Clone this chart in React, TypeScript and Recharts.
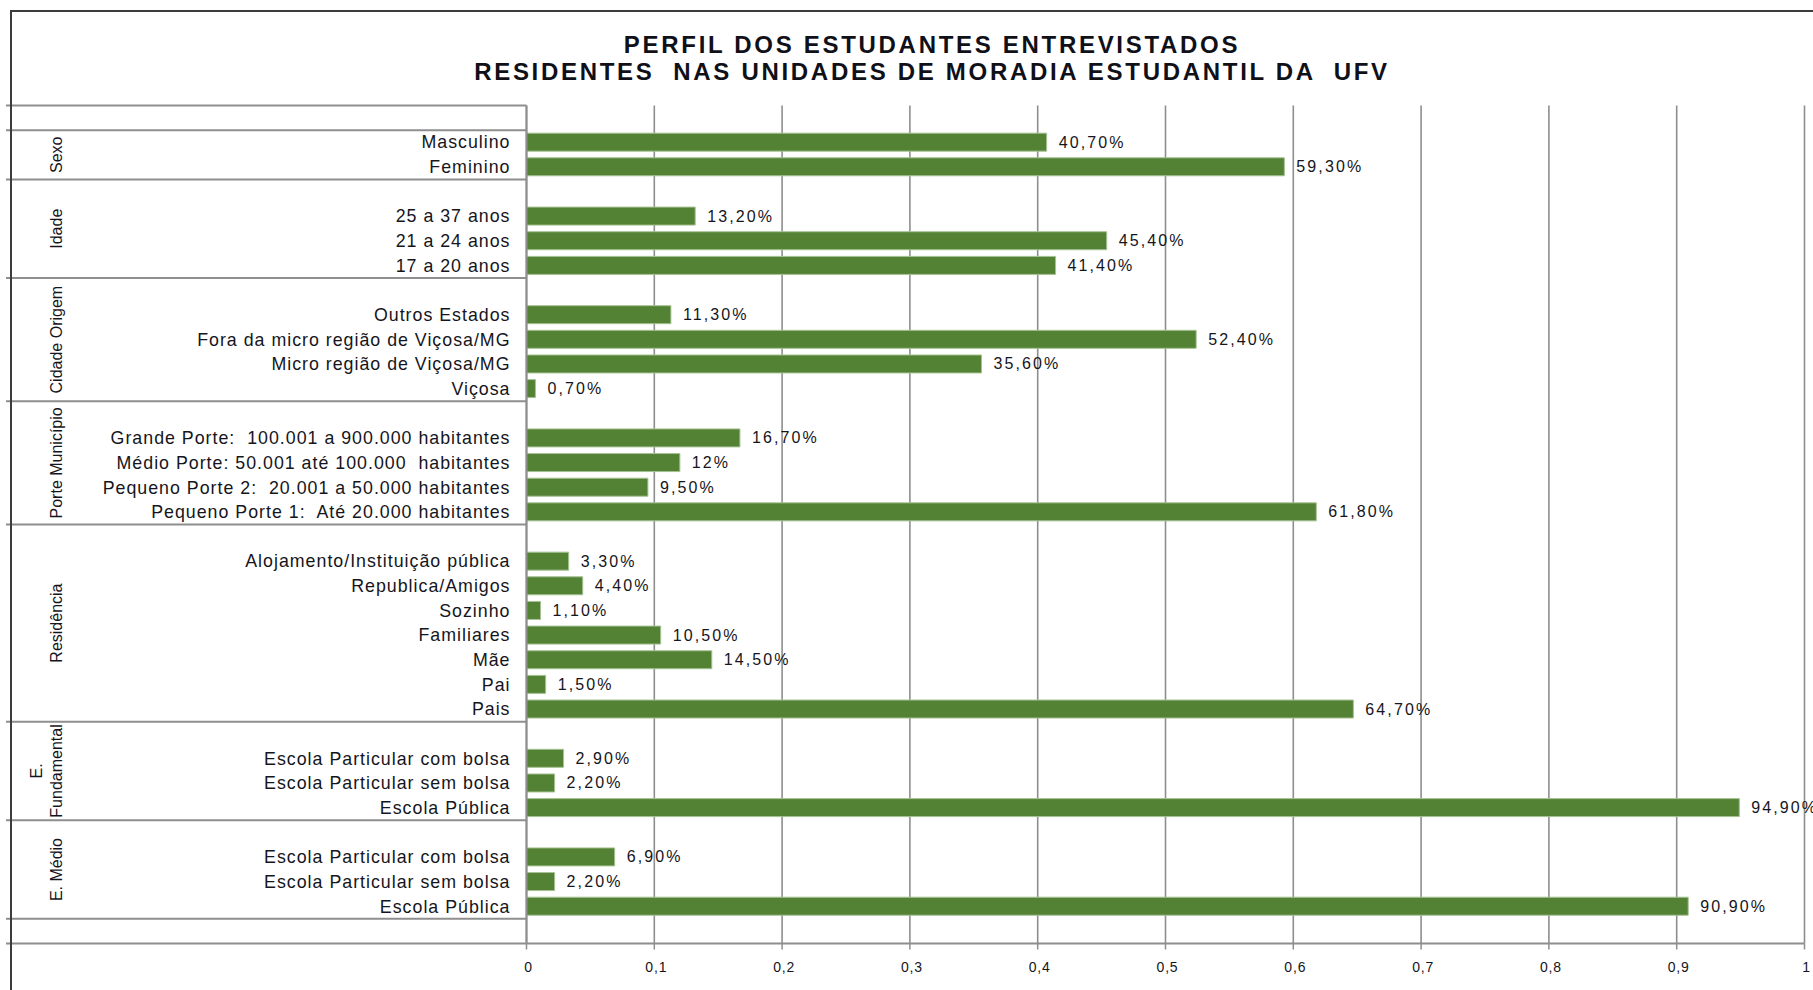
import React from 'react';
import { BarChart, Bar, XAxis, YAxis, CartesianGrid, LabelList } from 'recharts';

const titleLines = [
  'PERFIL DOS ESTUDANTES ENTREVISTADOS',
  'RESIDENTES  NAS UNIDADES DE MORADIA ESTUDANTIL DA  UFV',
];

const categories = [
  '',
  'Masculino', 'Feminino',
  '',
  '25 a 37 anos', '21 a 24 anos', '17 a 20 anos',
  '',
  'Outros Estados', 'Fora da micro região de Viçosa/MG', 'Micro região de Viçosa/MG', 'Viçosa',
  '',
  'Grande Porte:  100.001 a 900.000 habitantes', 'Médio Porte: 50.001 até 100.000  habitantes',
  'Pequeno Porte 2:  20.001 a 50.000 habitantes', 'Pequeno Porte 1:  Até 20.000 habitantes',
  '',
  'Alojamento/Instituição pública', 'Republica/Amigos', 'Sozinho', 'Familiares', 'Mãe', 'Pai', 'Pais',
  '',
  'Escola Particular com bolsa', 'Escola Particular sem bolsa', 'Escola Pública',
  '',
  'Escola Particular com bolsa', 'Escola Particular sem bolsa', 'Escola Pública',
  '',
];

const values: (number | null)[] = [
  null,
  0.407, 0.593,
  null,
  0.132, 0.454, 0.414,
  null,
  0.113, 0.524, 0.356, 0.007,
  null,
  0.167, 0.12, 0.095, 0.618,
  null,
  0.033, 0.044, 0.011, 0.105, 0.145, 0.015, 0.647,
  null,
  0.029, 0.022, 0.949,
  null,
  0.069, 0.022, 0.909,
  null,
];

const groupLabels = [['Sexo'], ['Idade'], ['Cidade Origem'], ['Porte Município'], ['Residência'], ['E.', 'Fundamental'], ['E. Médio']];
const groupStarts = [1, 3, 7, 12, 17, 25, 29];
const groupSizes = [2, 4, 5, 5, 8, 4, 4];
const separatorRows = [0, 1, 3, 7, 12, 17, 25, 29, 33];

const xTicks = [0, 0.1, 0.2, 0.3, 0.4, 0.5, 0.6, 0.7, 0.8, 0.9, 1];

const rows = categories.map((name, i) => ({ key: `r${i}`, name, value: values[i] }));

const W = 1813;
const H = 990;
const TOP = 105.5;
const Y_AXIS_W = 526.5;
const X_AXIS_H = 46.5;
const RIGHT = 8.5;
const TICK_MARGIN = 16;
const FONT = '"Liberation Sans", Arial, Helvetica, sans-serif';
const BAR = '#548235';
const GRID = '#8e8e8e';
const TEXT = '#151520';

const fmtPct = (v: number) => {
  let s = (v * 100).toFixed(2).replace('.', ',');
  if (s.endsWith(',00')) s = s.slice(0, -3);
  return s + '%';
};
const fmtTick = (v: number) => (v === 0 ? '0' : v === 1 ? '1' : v.toFixed(1).replace('.', ','));

const CategoryTick = (props: any) => {
  const { x, y, payload } = props;
  const i = rows.findIndex((r) => r.key === payload.value);
  const half = typeof payload.offset === 'number' && payload.offset > 0
    ? payload.offset
    : (H - TOP - X_AXIS_H) / rows.length / 2;
  const axisX = x + TICK_MARGIN;
  const name = categories[i];
  const g = groupStarts.indexOf(i);
  return (
    <g>
      {name ? (
        <text x={x} y={y} textAnchor="end" dominantBaseline="central" fontSize={17.8} letterSpacing={1}
          fill={TEXT} fontFamily={FONT} style={{ whiteSpace: 'pre' }}>{name}</text>
      ) : null}
      {separatorRows.includes(i) ? (
        <line x1={6} x2={axisX} y1={y - half} y2={y - half} stroke={GRID} strokeWidth={2} />
      ) : null}
      {i === rows.length - 1 ? (
        <line x1={6} x2={axisX} y1={y + half} y2={y + half} stroke={GRID} strokeWidth={2} />
      ) : null}
      {g >= 0 ? (
        <g transform={`translate(62, ${y - half + groupSizes[g] * half}) rotate(-90)`}>
          {groupLabels[g].map((ln, k) => (
            <text key={k} x={0} y={(k - (groupLabels[g].length - 1)) * 20} textAnchor="middle"
              fontSize={16} fill={TEXT} fontFamily={FONT}>{ln}</text>
          ))}
        </g>
      ) : null}
    </g>
  );
};

const ValueTick = (props: any) => {
  const { x, y, payload } = props;
  return (
    <text x={x + 2} y={y} dy="0.71em" textAnchor="middle" fontSize={14} letterSpacing={0.8}
      fill={TEXT} fontFamily={FONT}>{fmtTick(payload.value)}</text>
  );
};

const ValueLabel = (props: any) => {
  const { x, y, width, height, value } = props;
  if (value === null || value === undefined) return null;
  return (
    <text x={x + width + 12} y={y + height / 2} dominantBaseline="central" fontSize={16} letterSpacing={2.1}
      fill={TEXT} fontFamily={FONT}>{fmtPct(value)}</text>
  );
};

export default function App() {
  return (
    <div style={{ position: 'absolute', left: 0, top: 0, width: W, height: H, overflow: 'hidden', background: '#fff' }}>
      <BarChart width={W} height={H} data={rows} layout="vertical"
        margin={{ top: TOP, right: RIGHT, bottom: 0, left: 0 }}>
        <CartesianGrid horizontal={false} vertical stroke={GRID} strokeWidth={1.6} />
        <XAxis type="number" domain={[0, 1]} ticks={xTicks} allowDataOverflow height={X_AXIS_H}
          axisLine={{ stroke: GRID, strokeWidth: 2 }} tickLine={{ stroke: GRID, strokeWidth: 1.5 }}
          tickSize={6} tickMargin={13} tick={<ValueTick />} interval={0} />
        <YAxis type="category" dataKey="key" width={Y_AXIS_W} interval={0}
          axisLine={{ stroke: GRID, strokeWidth: 2 }} tickLine={false} tickSize={0}
          tickMargin={TICK_MARGIN} tick={<CategoryTick />} />
        <Bar dataKey="value" fill={BAR} stroke="#a6c294" strokeWidth={1} barSize={18} isAnimationActive={false}>
          <LabelList dataKey="value" content={<ValueLabel />} />
        </Bar>
      </BarChart>
      <svg width={W} height={H} style={{ position: 'absolute', left: 0, top: 0, pointerEvents: 'none' }}>
        <rect x={11} y={11} width={W + 100} height={H + 100} fill="none" stroke="#3c3c3c" strokeWidth={2} />
        {titleLines.map((t, k) => (
          <text key={k} x={932} y={53 + k * 27} textAnchor="middle" fontSize={24} fontWeight="bold"
            letterSpacing={2.7} fill="#101018" fontFamily={FONT} style={{ whiteSpace: 'pre' }}>{t}</text>
        ))}
      </svg>
    </div>
  );
}
